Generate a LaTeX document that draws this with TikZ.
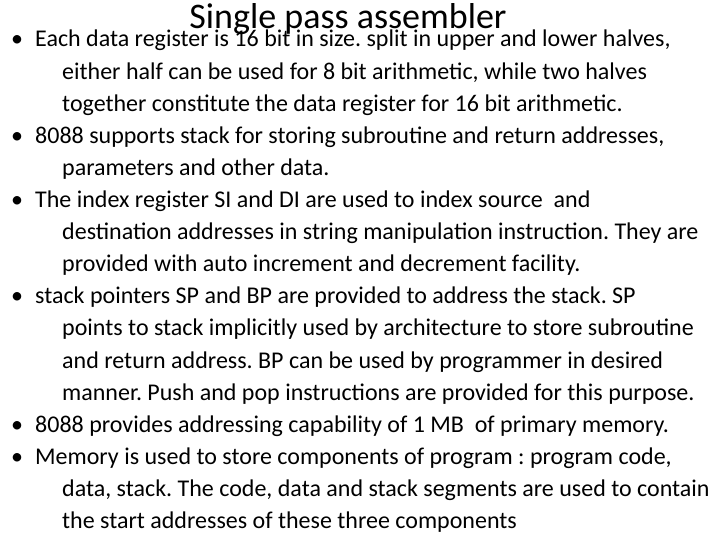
\documentclass[tikz,border=0pt]{standalone}
\usepackage{fontspec}
\setmainfont{Carlito}
\frenchspacing
\begin{document}
\begin{tikzpicture}[x=1pt,y=-1pt,
  ln/.style={anchor=base west,inner sep=0pt,font=\fontsize{24}{28}\selectfont},
  bul/.style={anchor=base west,inner sep=0pt,font=\fontsize{24}{28}\selectfont}]
\useasboundingbox (0,0) rectangle (720,540);
\node[anchor=base,inner sep=0pt,font=\fontsize{36}{40}\selectfont] (title) at (348,29) {Single pass assembler};
\def\L#1#2#3{\node[ln] (l#1) at (#2,{47+(#1-1)*32.1}) {#3};}
\def\B#1{\node[bul] (b#1) at (11,{47+(#1-1)*32.1}) {•};}
\B{1}\L{1}{35}{Each data register is 16 bit in size. split in upper and lower halves,}
\L{2}{62}{either half can be used for 8 bit arithmetic, while two halves}
\L{3}{62}{together constitute the data register for 16 bit arithmetic.}
\B{4}\L{4}{35}{8088 supports stack for storing subroutine and return addresses,}
\L{5}{62}{parameters and other data.}
\B{6}\L{6}{35}{The index register SI and DI are used to index source\ \ and}
\L{7}{62}{destination addresses in string manipulation instruction. They are}
\L{8}{62}{provided with auto increment and decrement facility.}
\B{9}\L{9}{35}{stack pointers SP and BP are provided to address the stack. SP}
\L{10}{62}{points to stack implicitly used by architecture to store subroutine}
\L{11}{62}{and return address. BP can be used by programmer in desired}
\L{12}{62}{manner. Push and pop instructions are provided for this purpose.}
\B{13}\L{13}{35}{8088 provides addressing capability of 1 MB\ \ of primary memory.}
\B{14}\L{14}{35}{Memory is used to store components of program : program code,}
\L{15}{62}{data, stack. The code, data and stack segments are used to contain}
\L{16}{62}{the start addresses of these three components}
\end{tikzpicture}
\end{document}
